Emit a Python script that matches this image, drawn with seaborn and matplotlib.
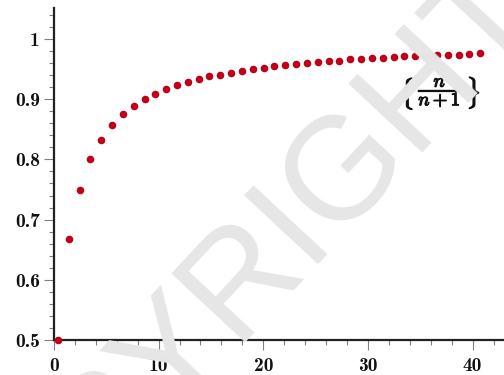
import matplotlib
matplotlib.use("Agg")
import matplotlib.pyplot as plt
import matplotlib.ticker as mticker
import matplotlib.patheffects as pe
import matplotlib.transforms as mtransforms
import numpy as np
import pandas as pd
import seaborn as sns

# Terms of the sequence n/(n+1), placed along the horizontal axis
x_pos = [0.37, 1.41, 2.44, 3.48, 4.51, 5.55, 6.58, 7.62, 8.65, 9.69,
         10.72, 11.76, 12.79, 13.83, 14.86, 15.90, 16.93, 17.97, 19.00, 20.04,
         21.07, 22.11, 23.14, 24.18, 25.21, 26.25, 27.28, 28.32, 29.35, 30.39,
         31.42, 32.46, 33.49, 34.53, 35.56, 36.60, 37.63, 38.67, 39.70, 40.74]
seq_vals = [0.5, 0.667, 0.75, 0.8, 0.833, 0.857, 0.875, 0.889, 0.9, 0.909,
            0.917, 0.923, 0.929, 0.933, 0.938, 0.941, 0.944, 0.947, 0.95, 0.952,
            0.955, 0.957, 0.958, 0.96, 0.962, 0.963, 0.964, 0.966, 0.967, 0.968,
            0.969, 0.970, 0.971, 0.971, 0.972, 0.973, 0.974, 0.974, 0.975, 0.976]

x_ticks = [0, 10, 20, 30, 40]
x_tick_labels = ["0", "10", "20", "30", "40"]
y_ticks = [0.5, 0.6, 0.7, 0.8, 0.9, 1.0]
y_tick_labels = ["0.5", "0.6", "0.7", "0.8", "0.9", "1"]

df = pd.DataFrame({"n": x_pos, "value": seq_vals})

sns.set_theme(style="white")
plt.rcParams["mathtext.fontset"] = "cm"
plt.rcParams["axes.unicode_minus"] = False

fig = plt.figure(figsize=(5.04, 3.75), dpi=100)
ax = fig.add_axes([0.1071, 0.0933, 0.8929, 0.8854])

# faint diagonal watermark behind the plot
fig.text(0.44, 0.19, "COPYRIGHT", fontsize=105, family="Liberation Sans",
         color="#e6e6e6", rotation=47, rotation_mode="anchor",
         ha="center", va="center", zorder=0)
ax.patch.set_alpha(0)

sns.scatterplot(data=df, x="n", y="value", ax=ax, color="#c00018",
                s=30, linewidth=0, zorder=3, clip_on=False)

ax.set_xlim(0.25, 43)
ax.set_ylim(0.5, 1.0515)
ax.set_xlabel("")
ax.set_ylabel("")

ax.set_xticks(x_ticks)
ax.set_xticklabels(x_tick_labels)
ax.set_yticks(y_ticks)
ax.set_yticklabels(y_tick_labels)
ax.xaxis.set_minor_locator(mticker.MultipleLocator(2))
ax.yaxis.set_minor_locator(mticker.MultipleLocator(0.02))

for spine in ["top", "right"]:
    ax.spines[spine].set_visible(False)
for spine in ["left", "bottom"]:
    ax.spines[spine].set_color("#222222")
    ax.spines[spine].set_linewidth(1.6)

ax.tick_params(which="major", direction="out", length=7.2, width=0.8,
               color="#808080")
ax.tick_params(which="minor", direction="out", length=3.6, width=0.8,
               color="#808080")
ax.tick_params(axis="x", which="both", bottom=True, pad=5)
ax.tick_params(axis="y", which="both", left=True, pad=3)
for lab in ax.get_xticklabels() + ax.get_yticklabels():
    lab.set_fontfamily("cmb10")
    lab.set_fontsize(14)
    lab.set_color("#111111")

# series label: fraction between a pair of braces, emboldened with a thin stroke
lab_x, lab_y = 36.9, 0.9103
bold = [pe.withStroke(linewidth=0.8, foreground="#111111")]
ax.text(lab_x, lab_y, r"$\dfrac{n}{n+1}$", fontsize=13.5, ha="center",
        va="center", color="#111111", path_effects=bold)
for dx, brace in [(-24, r"$\{$"), (24, r"$\}$")]:
    tr = mtransforms.offset_copy(ax.transData, fig=fig, x=dx, y=0,
                                 units="points")
    ax.text(lab_x, lab_y, brace, transform=tr, fontsize=19, ha="center",
            va="center", color="#111111", path_effects=bold)

fig.savefig("out.png", dpi=100)
